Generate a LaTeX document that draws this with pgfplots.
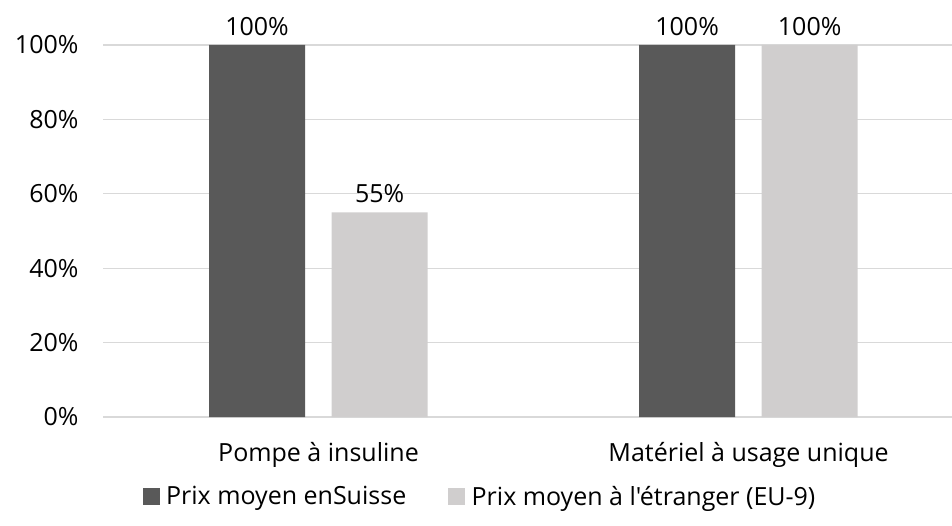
\documentclass[border=0pt]{standalone}
\usepackage{pgfplots}
\pgfplotsset{compat=1.18}
\usepackage{fontspec}
\setmainfont{Open Sans}[Ligatures=TeXOff]
\definecolor{darkbar}{HTML}{595959}
\definecolor{lightbar}{HTML}{D0CECE}
\definecolor{gridc}{HTML}{D9D9D9}
\begin{document}
\begin{tikzpicture}
\begin{axis}[
  scale only axis,
  width=424.25pt, height=186pt,
  xmin=-0.5, xmax=1.473,
  ymin=0, ymax=100,
  ybar, bar width=0.2233,
  axis line style={draw=none},
  clip=false,
  xtick={0,1},
  xticklabels={Pompe à insuline, Matériel à usage unique},
  ytick={0,20,40,60,80,100},
  yticklabel={\pgfmathprintnumber{\tick}\%},
  /pgf/number format/assume math mode=true,
  ymajorgrids, grid style={gridc, line width=0.6pt},
  major tick length=0pt,
  yticklabel style={anchor=east, xshift=-9pt, font=\fontsize{12.5}{14}\selectfont, text=black},
  xticklabel style={anchor=center, yshift=-19pt, font=\fontsize{12.5}{14}\selectfont, text=black},
  nodes near coords={\pgfmathprintnumber{\pgfplotspointmeta}\%},
  nodes near coords style={font=\fontsize{12.5}{14}\selectfont, text=black, inner sep=2pt, yshift=2.5pt},
  legend style={at={(0.445,-0.215)}, anchor=center, draw=none, legend columns=2,
    font=\fontsize{12.5}{14}\selectfont,
    /tikz/every odd column/.append style={column sep=1.2pt},
    /tikz/every even column/.append style={column sep=19pt}},
  legend image code/.code={\fill[#1] (0pt,-4.25pt) rectangle (8.5pt,4.25pt);},
]
\addplot[draw=none, fill=darkbar, bar shift=-0.143] coordinates {(0,100) (1,100)};
\addplot[draw=none, fill=lightbar, bar shift=0.142] coordinates {(0,55) (1,100)};
\legend{Prix moyen enSuisse, Prix moyen à l'étranger (EU-9)}
\end{axis}
\pgfresetboundingbox
\path (current axis.south west) ++(-51.75pt,-54pt) coordinate (bl);
\path (current axis.north east) ++(0pt,22.5pt) coordinate (tr);
\path[use as bounding box] (bl) rectangle (tr);
\end{tikzpicture}
\end{document}
